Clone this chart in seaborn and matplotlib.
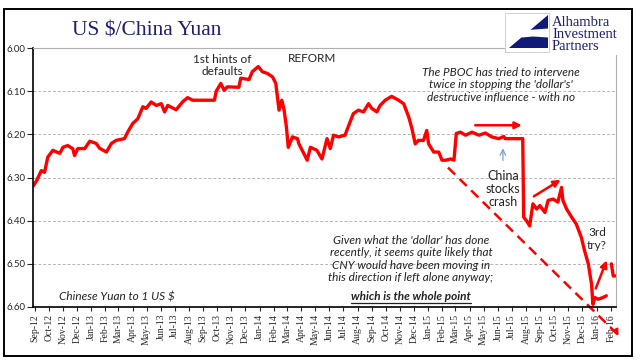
import numpy as np
import pandas as pd
import matplotlib
matplotlib.use("Agg")
import matplotlib.pyplot as plt
import matplotlib.dates as mdates
from matplotlib.patches import Rectangle, Polygon
from matplotlib.lines import Line2D
import seaborn as sns

# ── Data ──────────────────────────────────────────────────
DATES = [
    "2012-08-29", "2012-09-05", "2012-09-15", "2012-09-22", "2012-09-29",
    "2012-10-10", "2012-10-25", "2012-11-01", "2012-11-11", "2012-11-22",
    "2012-11-26", "2012-12-03", "2012-12-18", "2012-12-29", "2013-01-12",
    "2013-01-19", "2013-02-03", "2013-02-14", "2013-02-24", "2013-03-14",
    "2013-03-21", "2013-04-01", "2013-04-12", "2013-04-23", "2013-04-30",
    "2013-05-11", "2013-05-22", "2013-06-02", "2013-06-09", "2013-06-16",
    "2013-07-04", "2013-07-18", "2013-07-29", "2013-08-09", "2013-08-31",
    "2013-09-25", "2013-09-29", "2013-10-09", "2013-10-16", "2013-10-23",
    "2013-11-17", "2013-11-21", "2013-12-09", "2013-12-16", "2013-12-29",
    "2014-01-07", "2014-01-18", "2014-01-29", "2014-02-05", "2014-02-12",
    "2014-02-18", "2014-02-23", "2014-02-28", "2014-03-04", "2014-03-13",
    "2014-03-24", "2014-03-27", "2014-04-07", "2014-04-14", "2014-04-21",
    "2014-05-05", "2014-05-16", "2014-05-27", "2014-06-03", "2014-06-10",
    "2014-06-21", "2014-07-05", "2014-07-16", "2014-07-23", "2014-08-03",
    "2014-08-14", "2014-08-25", "2014-09-01", "2014-09-12", "2014-09-19",
    "2014-09-30", "2014-10-14", "2014-10-29", "2014-11-09", "2014-11-20",
    "2014-11-27", "2014-12-04", "2014-12-11", "2014-12-22", "2014-12-29",
    "2015-01-02", "2015-01-13", "2015-01-24", "2015-01-31", "2015-02-08",
    "2015-02-19", "2015-02-26", "2015-03-03", "2015-03-12", "2015-03-23",
    "2015-04-06", "2015-04-21", "2015-05-05", "2015-05-19", "2015-06-03",
    "2015-06-14", "2015-06-17", "2015-07-25", "2015-07-27", "2015-08-02",
    "2015-08-09", "2015-08-16", "2015-08-24", "2015-08-31", "2015-09-11",
    "2015-09-18", "2015-09-29", "2015-10-09", "2015-10-17", "2015-10-20",
    "2015-10-28", "2015-11-08", "2015-11-18", "2015-11-29", "2015-12-06",
    "2015-12-14", "2015-12-21", "2015-12-24", "2015-12-28", "2016-01-04",
    "2016-01-15", "2016-01-22", "2016-02-02", "2016-02-06", "2016-02-11",
]
CNY = [
    6.319, 6.307, 6.284, 6.288, 6.253,
    6.237, 6.244, 6.230, 6.226, 6.233,
    6.249, 6.233, 6.233, 6.216, 6.221,
    6.232, 6.241, 6.221, 6.214, 6.210,
    6.195, 6.175, 6.164, 6.136, 6.140,
    6.125, 6.133, 6.129, 6.148, 6.133,
    6.143, 6.125, 6.115, 6.121, 6.121,
    6.121, 6.100, 6.082, 6.098, 6.090,
    6.091, 6.070, 6.073, 6.055, 6.043,
    6.055, 6.059, 6.067, 6.082, 6.144,
    6.121, 6.144, 6.183, 6.230, 6.206,
    6.210, 6.222, 6.245, 6.260, 6.230,
    6.237, 6.257, 6.210, 6.233, 6.202,
    6.206, 6.202, 6.171, 6.152, 6.144,
    6.148, 6.129, 6.140, 6.148, 6.133,
    6.121, 6.112, 6.121, 6.129, 6.160,
    6.187, 6.222, 6.214, 6.214, 6.191,
    6.222, 6.241, 6.241, 6.260, 6.260,
    6.257, 6.260, 6.198, 6.195, 6.202,
    6.195, 6.202, 6.197, 6.206, 6.210,
    6.205, 6.210, 6.210, 6.392, 6.400,
    6.412, 6.361, 6.373, 6.365, 6.381,
    6.353, 6.350, 6.357, 6.323, 6.353,
    6.373, 6.392, 6.408, 6.439, 6.470,
    6.500, 6.547, 6.594, 6.578, 6.582,
    6.578, 6.574, 6.500, 6.528, 6.528,
]
HOLIDAY_GAP = "2016-01-25"      # no fixings over Lunar New Year
Y_TICKS = [6.00, 6.10, 6.20, 6.30, 6.40, 6.50, 6.60]
MONTHS = pd.date_range("2012-09-01", "2016-02-01", freq="MS")

df = pd.DataFrame({"date": pd.to_datetime(DATES), "cny": CNY})
df["segment"] = (df["date"] > pd.Timestamp(HOLIDAY_GAP)).astype(int)

# ── Style ─────────────────────────────────────────────────
sns.set_style("white")
plt.rcParams["font.family"] = ["Lato", "DejaVu Sans"]

RED = "#FF0000"
NAVY = "#1F1F6E"
W, H = 641, 361


def fx(x):
    return x / W


def fy(y):
    return 1 - y / H


fig = plt.figure(figsize=(W / 100, H / 100), dpi=100)
ax = fig.add_axes([fx(33), fy(307), (616 - 33) / W, (307 - 48) / H])

sns.lineplot(data=df, x="date", y="cny", units="segment", estimator=None,
             color=RED, linewidth=2.4, ax=ax, legend=False)

# ── Axes ─────────────────────────────────────────────────
ax.set_xlim(pd.Timestamp("2012-08-28"), pd.Timestamp("2016-02-12"))
ax.set_ylim(6.60, 6.00)
ax.set_yticks(Y_TICKS)
ax.set_yticklabels([f"{v:.2f}" for v in Y_TICKS], fontsize=7)
ax.set_xticks(MONTHS)
ax.set_xticklabels([d.strftime("%b-%y") for d in MONTHS], rotation=90,
                   family="Liberation Serif", fontsize=7)
ax.set_xlabel("")
ax.set_ylabel("")
ax.tick_params(axis="y", direction="out", length=4, width=0.8, pad=1.5, left=True)
ax.tick_params(axis="x", direction="out", length=3, width=0.8, pad=2, bottom=True)
ax.yaxis.grid(True, linestyle=(0, (3, 2)), color="#B5B5B5", linewidth=0.7)
ax.xaxis.grid(False)
for side in ["left", "bottom"]:
    ax.spines[side].set_color("black")
    ax.spines[side].set_linewidth(1.2)
for side in ["top", "right"]:
    ax.spines[side].set_color("#B0B0B0")
    ax.spines[side].set_linewidth(0.8)

# ── Arrows ───────────────────────────────────────────────
T = pd.Timestamp
red_head = dict(arrowstyle="-|>", color=RED, lw=1.8, mutation_scale=10)
ax.annotate("", xy=(T("2015-07-29"), 6.179), xytext=(T("2015-04-07"), 6.179),
            arrowprops=red_head)
ax.annotate("", xy=(T("2015-10-20"), 6.302), xytext=(T("2015-08-13"), 6.347),
            arrowprops=red_head)
ax.annotate("", xy=(T("2016-01-25"), 6.486), xytext=(T("2015-12-28"), 6.563),
            arrowprops=red_head)
ax.annotate("", xy=(T("2015-06-12"), 6.226), xytext=(T("2015-06-12"), 6.267),
            arrowprops=dict(arrowstyle="->", color="#7F9CCB", lw=0.9))

# dashed "trend" line running off the axes
ax.plot([T("2015-02-13"), T("2016-02-17")], [6.277, 6.665], color=RED,
        linestyle=(0, (4, 2.5)), linewidth=1.8, clip_on=False)
ax.annotate("", xy=(T("2016-02-20"), 6.672), xytext=(T("2016-02-12"), 6.655),
            arrowprops=dict(arrowstyle="-|>", color=RED, lw=1.2, mutation_scale=9),
            annotation_clip=False)

# ── Texts ────────────────────────────────────────────────
fig.text(fx(72), fy(31), "US $/China Yuan", family="Liberation Serif",
         fontsize=15.5, color=NAVY, va="center", ha="left")

fig.text(fx(222), fy(65.5), "1st hints of\ndefaults", fontsize=8.5,
         ha="center", va="center", linespacing=1.05, color="#222222")
fig.text(fx(312), fy(59), "REFORM", fontsize=8.5, ha="center", va="center",
         color="#222222")
fig.text(fx(501), fy(85), "The PBOC has tried to intervene\ntwice in stopping the 'dollar's'\n"
         "destructive influence - with no", fontsize=8.5, style="italic",
         ha="center", va="center", linespacing=1.2, color="#222222")
fig.text(fx(503), fy(189), "China\nstocks\ncrash", fontsize=9, ha="center",
         va="center", linespacing=1.15, color="#222222")
fig.text(fx(597), fy(239), "3rd\ntry?", fontsize=8.5, ha="center", va="center",
         linespacing=1.2, color="#222222")
fig.text(fx(411), fy(259), "Given what the 'dollar' has done\nrecently, it seems quite likely that\n"
         "CNY would have been moving in\nthis direction if left alone anyway;",
         fontsize=8.5, style="italic", ha="center", va="center", linespacing=1.15,
         color="#222222")
point = fig.text(fx(411), fy(296), "which is the whole point", fontsize=8.5,
                 style="italic", weight="bold", ha="center", va="center",
                 color="#222222")
fig.text(fx(59), fy(297), "Chinese Yuan to 1 US $", fontsize=8.5, style="italic",
         ha="left", va="center", color="#222222")

# underline for the punch line
fig.canvas.draw()
bb = point.get_window_extent().transformed(fig.transFigure.inverted())
fig.add_artist(Line2D([bb.x0, bb.x1], [bb.y0 - 0.003, bb.y0 - 0.003],
                      transform=fig.transFigure, color="#222222", lw=0.9))

# ── Logo ─────────────────────────────────────────────────
fig.add_artist(Rectangle((fx(533), fy(55)), (621 - 533) / W, (55 - 10) / H,
                         transform=fig.transFigure, facecolor="white",
                         edgecolor="none", zorder=5))
fig.add_artist(Rectangle((fx(505), fy(52)), 44 / W, 39 / H,
                         transform=fig.transFigure, facecolor="white",
                         edgecolor="#C8C8C8", lw=0.6, zorder=6))
fig.add_artist(Polygon([(fx(548), fy(15)), (fx(509), fy(48)), (fx(548), fy(48))],
                       closed=True, transform=fig.transFigure,
                       facecolor="#101A78", edgecolor="none", zorder=7))
fig.add_artist(Polygon([(fx(518), fy(35)), (fx(528), fy(30)), (fx(548), fy(28.5)),
                        (fx(548), fy(37.5)), (fx(533), fy(36.5)), (fx(522), fy(37.5))],
                       closed=True, transform=fig.transFigure,
                       facecolor="white", edgecolor="none", zorder=8))
for i, word in enumerate(["Alhambra", "Investment", "Partners"]):
    fig.text(fx(552), fy(22 + 12.5 * i), word, family="Liberation Serif",
             fontsize=10.5, color=NAVY, ha="left", va="center", zorder=9)

# outer frame
fig.add_artist(Rectangle((fx(4), fy(356)), (632 - 4) / W, (356 - 9) / H,
                         transform=fig.transFigure, fill=False,
                         edgecolor="black", lw=1.4, zorder=10))

fig.savefig("out.png", dpi=100)
